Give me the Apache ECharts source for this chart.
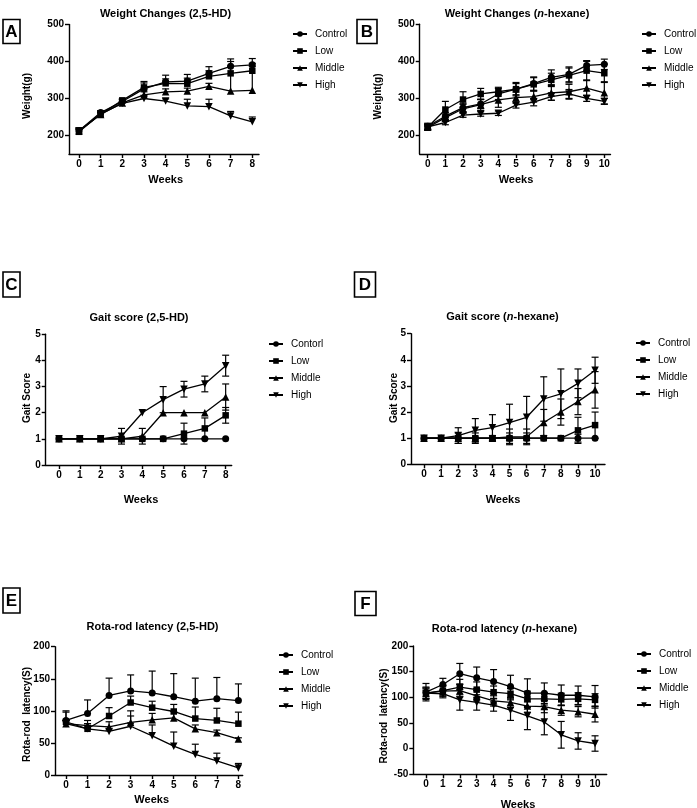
<!DOCTYPE html>
<html><head><meta charset="utf-8">
<script src="https://cdn.jsdelivr.net/npm/echarts@6/dist/echarts.min.js"></script>
<style>html,body{margin:0;padding:0;background:#fff}#c{width:697px;height:808px}</style>
</head><body><div id="c"></div>
<script>
// ---------- data ----------
const weeks8 = [0,1,2,3,4,5,6,7,8];
const weeks10 = [0,1,2,3,4,5,6,7,8,9,10];
const groups = ['Control','Low','Middle','High'];
const groupsC = ['Contorl','Low','Middle','High'];

// A: Weight Changes (2,5-HD)
const aControl = [213,262,292,326,345,347,368,387,391];
const aLow     = [210,258,295,330,341,340,360,368,375];
const aMiddle  = [213,257,288,310,318,320,333,320,322];
const aHigh    = [212,258,287,300,293,280,278,253,237];
const aControlSd = [8,5,5,20,18,18,18,20,17];
const aLowSd     = [8,5,5,12,12,15,15,20,20];
const aMiddleSd  = [5,4,4,8,8,8,8,80,65];
const aHighSd    = [5,4,4,6,6,18,20,12,13];

// B: Weight Changes (n-hexane)
const bControl = [225,252,275,285,312,325,340,357,365,389,392];
const bLow     = [222,270,297,312,318,325,338,350,362,375,368];
const bMiddle  = [222,248,272,283,296,302,305,315,318,328,315];
const bHigh    = [223,235,255,258,260,282,290,305,312,300,292];
const bControlSd = [8,10,12,12,15,18,18,20,20,13,14];
const bLowSd     = [8,22,21,15,12,15,18,18,20,25,25];
const bMiddleSd  = [6,10,12,15,20,15,15,20,20,20,30];
const bHighSd    = [6,6,6,6,6,8,10,10,12,8,8];

// C: Gait score (2,5-HD)
const cControl = [1,1,1,1,1,1,1,1,1];
const cLow     = [1,1,1,1,1,1,1.2,1.4,1.9];
const cMiddle  = [1,1,1,1,1.1,2,2,2,2.6];
const cHigh    = [1,1,1,1.1,2,2.5,2.9,3.1,3.8];
const cControlSd = [0,0,0,0,0,0,0,0,0];
const cLowSd     = [0,0,0,0,0,0,0.4,0.4,0.3];
const cMiddleSd  = [0,0,0,0,0.3,0,0,0,0.5];
const cHighSd    = [0,0,0,0.3,0,0.5,0.3,0.3,0.4];

// D: Gait score (n-hexane)
const dControl = [1,1,1,1,1,1,1,1,1,1,1];
const dLow     = [1,1,1,1,1,1,1,1,1,1.3,1.5];
const dMiddle  = [1,1,1,1,1,1.05,1.05,1.6,2,2.4,2.85];
const dHigh    = [1,1,1.1,1.3,1.4,1.6,1.8,2.5,2.7,3.1,3.6];
const dControlSd = [0,0,0,0,0,0,0,0,0,0.15,0];
const dLowSd     = [0,0,0.2,0.2,0.1,0.2,0.2,0,0,0.5,0.5];
const dMiddleSd  = [0,0,0,0,0,0.3,0.3,0.5,0.5,0.5,0.7];
const dHighSd    = [0,0,0.3,0.45,0.5,0.7,0.8,0.85,0.95,0.55,0.5];

// E: Rota-rod latency (2,5-HD)  (upper error bars only)
const eControl = [85,96,124,131,128,122,115,119,116];
const eLow     = [83,72,92,113,105,99,88,85,80];
const eMiddle  = [80,77,75,82,86,89,72,66,56];
const eHigh    = [80,72,68,76,61,45,32,22,11];
const eControlSd = [15,21,27,25,34,36,36,33,26];
const eLowSd     = [15,8,13,10,10,11,18,19,18];
const eMiddleSd  = [5,8,8,18,10,10,6,4,2];
const eHighSd    = [5,8,4,16,17,22,16,12,7];

// F: Rota-rod latency (n-hexane)
const fControl = [110,125,146,138,131,121,108,108,104,104,101];
const fLow     = [108,113,120,115,110,107,97,97,96,97,95];
const fMiddle  = [108,112,113,103,93,90,83,82,75,72,67];
const fHigh    = [108,107,95,90,85,75,64,52,27,15,10];
const fControlSd = [17,12,20,21,23,22,28,20,20,18,22];
const fLowSd     = [12,10,15,15,12,10,15,12,12,12,12];
const fMiddleSd  = [10,10,12,10,10,10,12,12,10,10,15];
const fHighSd    = [10,8,20,15,12,20,27,25,26,16,15];

const yTicksWeight = [200,300,400,500];

// ---------- build ----------
const FONT = '"Liberation Sans", Arial, sans-serif';
const symbols = ['circle','rect','triangle','triangle'];
const rotates = [0,0,0,180];
const sizes = [7,6.5,7.5,7.5];

const panels = [
  {weeks:weeks8, names:groups, means:[aControl,aLow,aMiddle,aHigh], sds:[aControlSd,aLowSd,aMiddleSd,aHighSd], mode:'up',
   grid:{left:69,top:24.5,width:190,height:129.5}, xmin:-0.462, xmax:8.31, ymin:150, ymax:500, yCustom:yTicksWeight},
  {weeks:weeks10, names:groups, means:[bControl,bLow,bMiddle,bHigh], sds:[bControlSd,bLowSd,bMiddleSd,bHighSd], mode:'both',
   grid:{left:419.7,top:24.3,width:190.8,height:129.7}, xmin:-0.453, xmax:10.35, ymin:150, ymax:500, yCustom:yTicksWeight},
  {weeks:weeks8, names:groupsC, means:[cControl,cLow,cMiddle,cHigh], sds:[cControlSd,cLowSd,cMiddleSd,cHighSd], mode:'both',
   grid:{left:45.7,top:334.3,width:186,height:130.7}, xmin:-0.638, xmax:8.29, ymin:0, ymax:5, interval:1},
  {weeks:weeks10, names:groups, means:[dControl,dLow,dMiddle,dHigh], sds:[dControlSd,dLowSd,dMiddleSd,dHighSd], mode:'both',
   grid:{left:411,top:333.7,width:194,height:130.6}, xmin:-0.76, xmax:10.58, ymin:0, ymax:5, interval:1},
  {weeks:weeks8, names:groups, means:[eControl,eLow,eMiddle,eHigh], sds:[eControlSd,eLowSd,eMiddleSd,eHighSd], mode:'up',
   grid:{left:55,top:646.7,width:187.7,height:128.3}, xmin:-0.51, xmax:8.2, ymin:0, ymax:200, interval:50},
  {weeks:weeks10, names:groups, means:[fControl,fLow,fMiddle,fHigh], sds:[fControlSd,fLowSd,fMiddleSd,fHighSd], mode:'both',
   grid:{left:413.3,top:646,width:193.4,height:128.3}, xmin:-0.75, xmax:10.69, ymin:-50, ymax:200, interval:50}
];

const grids = [], xAxes = [], yAxes = [], series = [];
const axisLineStyle = {color:'#000', width:1.4};
panels.forEach((p, i) => {
  grids.push(Object.assign({containLabel:false}, p.grid));
  xAxes.push({
    type:'value', gridIndex:i, min:p.xmin, max:p.xmax,
    axisLine:{show:true, onZero:false, lineStyle:axisLineStyle},
    axisTick:{show:true, length:4, lineStyle:axisLineStyle, customValues:p.weeks},
    axisLabel:{customValues:p.weeks, margin:5, color:'#000', fontSize:10, fontWeight:'bold', fontFamily:FONT},
    splitLine:{show:false}
  });
  const y = {
    type:'value', gridIndex:i, min:p.ymin, max:p.ymax,
    axisLine:{show:true, onZero:false, lineStyle:axisLineStyle},
    axisTick:{show:true, length:4, lineStyle:axisLineStyle},
    axisLabel:{margin:5, color:'#000', fontSize:10, fontWeight:'bold', fontFamily:FONT},
    splitLine:{show:false}
  };
  if (p.yCustom) { y.axisTick.customValues = p.yCustom; y.axisLabel.customValues = p.yCustom; }
  else { y.interval = p.interval; }
  yAxes.push(y);

  p.means.forEach((vals, g) => {
    const sdv = p.sds[g];
    series.push({
      type:'custom', name:p.names[g]+' SD', xAxisIndex:i, yAxisIndex:i, silent:true, animation:false, z:2,
      encode:{x:0, y:1},
      data:p.weeks.map((w,k)=>[w, vals[k], sdv[k]]),
      renderItem:(params, api) => {
        const x = api.value(0), yv = api.value(1), sd = api.value(2);
        if (!sd) return null;
        const top = api.coord([x, yv + sd]);
        const bot = api.coord([x, p.mode === 'both' ? yv - sd : yv]);
        const hw = 3.5;
        const st = {stroke:'#000', lineWidth:1.2};
        const ch = [
          {type:'line', shape:{x1:top[0], y1:top[1], x2:bot[0], y2:bot[1]}, style:st},
          {type:'line', shape:{x1:top[0]-hw, y1:top[1], x2:top[0]+hw, y2:top[1]}, style:st}
        ];
        if (p.mode === 'both') ch.push({type:'line', shape:{x1:bot[0]-hw, y1:bot[1], x2:bot[0]+hw, y2:bot[1]}, style:st});
        return {type:'group', children:ch};
      }
    });
    series.push({
      type:'line', name:p.names[g], xAxisIndex:i, yAxisIndex:i, z:3, animation:false,
      data:p.weeks.map((w,k)=>[w, vals[k]]),
      symbol:symbols[g], symbolSize:sizes[g], symbolRotate:rotates[g], showAllSymbol:true,
      lineStyle:{color:'#000', width:1.3}, itemStyle:{color:'#000', borderWidth:0}
    });
  });
});

const legendPos = [
  {left:292, top:28, names:groups},
  {left:641, top:28, names:groups},
  {left:268, top:338, names:groupsC},
  {left:635, top:337, names:groups},
  {left:278, top:649, names:groups},
  {left:636, top:648, names:groups}
];
const legends = legendPos.map(l => ({
  orient:'vertical', left:l.left, top:l.top, data:l.names, selectedMode:false,
  itemWidth:14, itemHeight:7, itemGap:5, padding:0,
  textStyle:{fontSize:10, color:'#000', fontFamily:FONT, lineHeight:12, padding:[0,0,0,3]}
}));

function txt(x, y, s) {
  return {type:'text', x:x, y:y, style:{text:s, fill:'#000', font:'bold 11px '+FONT, align:'center', verticalAlign:'middle'}};
}
function rtxt(x, y, pre, it, post) {
  return {type:'text', x:x, y:y, style:{rich:{b:{font:'bold 11px '+FONT, fill:'#000'}, i:{font:'italic bold 11px '+FONT, fill:'#000'}},
    text:'{b|'+pre+'}{i|'+it+'}{b|'+post+'}', align:'center', verticalAlign:'middle'}};
}
function vtxt(x, y, s) {
  return {type:'text', x:x, y:y, rotation:Math.PI/2, style:{text:s, fill:'#000', font:'bold 10px '+FONT, align:'center', verticalAlign:'middle'}};
}
function box(x, y, w, h, letter) {
  return [
    {type:'rect', shape:{x:x, y:y, width:w, height:h}, style:{fill:'none', stroke:'#000', lineWidth:1.6}},
    {type:'text', x:x+w/2, y:y+h/2+0.5, style:{text:letter, fill:'#000', font:'bold 17px '+FONT, align:'center', verticalAlign:'middle'}}
  ];
}
const graphic = [].concat(
  box(3,19.5,17,24,'A'), box(357,19.5,20,24,'B'), box(3,272,17,25,'C'), box(354.5,272,21,25,'D'),
  box(3,588,17,25,'E'), box(355,591.5,21,24,'F'),
  [
    txt(165.5,14.3,'Weight Changes (2,5-HD)'),
    rtxt(517,14.3,'Weight Changes (','n','-hexane)'),
    txt(139,317.7,'Gait score (2,5-HD)'),
    rtxt(502.5,316.7,'Gait score (','n','-hexane)'),
    txt(152.5,626.7,'Rota-rod latency (2,5-HD)'),
    rtxt(504.5,629.3,'Rota-rod latency (','n','-hexane)'),
    txt(165.7,180,'Weeks'), txt(516,180,'Weeks'), txt(141,500,'Weeks'), txt(503,500,'Weeks'),
    txt(151.7,800,'Weeks'), txt(518,805,'Weeks'),
    vtxt(27.5,96,'Weight(g)'), vtxt(378,96.5,'Weight(g)'),
    vtxt(27,398,'Gait Score'), vtxt(394,398,'Gait Score'),
    vtxt(27,714.5,'Rota-rod  latency(S)'), vtxt(384,716,'Rota-rod  latency(S)')
  ]
);

const chart = echarts.init(document.getElementById('c'), null, {renderer:'canvas'});
chart.setOption({
  animation:false, backgroundColor:'#fff',
  textStyle:{fontFamily:FONT},
  grid:grids, xAxis:xAxes, yAxis:yAxes, series:series, legend:legends, graphic:graphic
});
</script></body></html>
